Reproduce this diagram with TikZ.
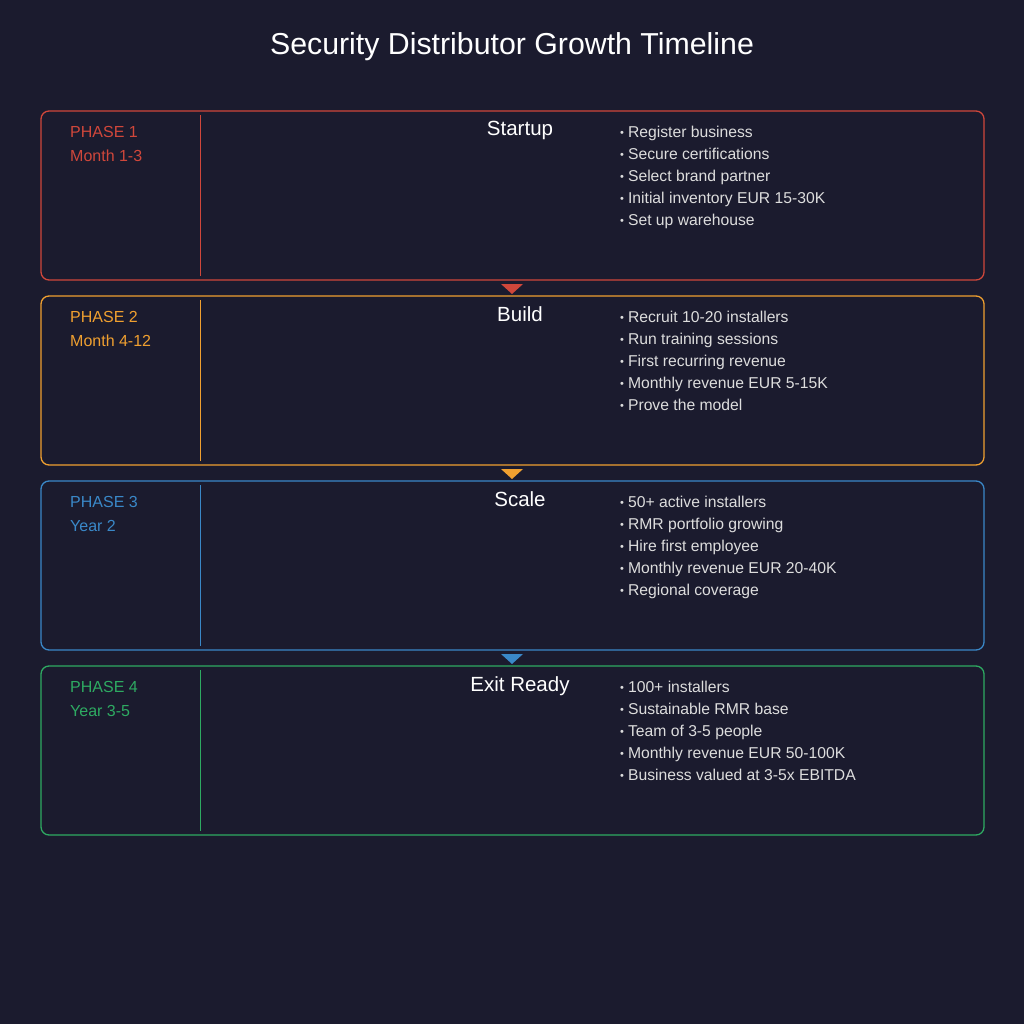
\documentclass[tikz,border=0pt]{standalone}
\usepackage{fontspec}
\setmainfont{Liberation Sans}
\begin{document}
\definecolor{bg}{HTML}{1B1B2E}
\definecolor{cA}{HTML}{D0473B}
\definecolor{cB}{HTML}{F0A030}
\definecolor{cC}{HTML}{3A88C8}
\definecolor{cD}{HTML}{2EAA62}
\definecolor{txt}{HTML}{DDDDDD}
\begin{tikzpicture}[x=1pt,y=-1pt,
  box/.style={draw=#1,line width=1.3pt,rounded corners=8pt},
  ph/.style={text=#1,anchor=base west,inner sep=0pt,font=\fontsize{16}{16}\selectfont},
  hd/.style={text=white,anchor=base,inner sep=0pt,font=\fontsize{20.5}{20.5}\selectfont},
  bl/.style={text=txt,anchor=base west,inner sep=0pt,font=\fontsize{15.7}{16}\selectfont}]
\fill[bg] (0,0) rectangle (1024,1024);
\useasboundingbox (0,0) rectangle (1024,1024);
\node[text=white,anchor=base,inner sep=0pt,font=\fontsize{30.3}{30.3}\selectfont] (title) at (512,55) {Security Distributor Growth Timeline};
\foreach \i/\c/\p/\t/\h/\a/\b/\cc/\d/\e in {
 0/cA/PHASE 1/Month 1-3/Startup/Register business/Secure certifications/Select brand partner/Initial inventory EUR 15-30K/Set up warehouse,
 1/cB/PHASE 2/Month 4-12/Build/Recruit 10-20 installers/Run training sessions/First recurring revenue/Monthly revenue EUR 5-15K/Prove the model,
 2/cC/PHASE 3/Year 2/Scale/50+ active installers/RMR portfolio growing/Hire first employee/Monthly revenue EUR 20-40K/Regional coverage,
 3/cD/PHASE 4/Year 3-5/Exit Ready/100+ installers/Sustainable RMR base/Team of 3-5 people/Monthly revenue EUR 50-100K/Business valued at 3-5x EBITDA}{
 \pgfmathsetmacro{\y}{111+185*\i}
 \draw[box=\c] (41,\y) rectangle (984,\y+169);
 \draw[\c,line width=0.8pt] (200,\y+4) -- (200,\y+165);
 \node[ph=\c] (p\i) at (70,\y+26.5) {\p};
 \node[ph=\c] (t\i) at (70,\y+50.5) {\t};
 \node[hd] (h\i) at (520,\y+25) {\h};
 \foreach \s [count=\k from 0] in {\a,\b,\cc,\d,\e}{
   \node[bl] (b\i\k) at (620,\y+26.5+22*\k) {\raisebox{1pt}{\scalebox{0.7}{\textbullet}}\hspace{4pt}\s};
 }
}
\foreach \i/\c in {0/cA,1/cB,2/cC}{
 \pgfmathsetmacro{\y}{111+185*\i+173}
 \fill[\c] (501,\y) -- (523,\y) -- (512,\y+10) -- cycle;
}
\end{tikzpicture}
\end{document}
